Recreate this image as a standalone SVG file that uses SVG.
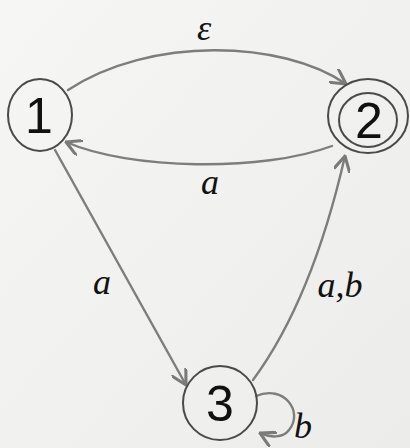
<svg xmlns="http://www.w3.org/2000/svg" width="410" height="448" viewBox="0 0 410 448">
<defs>
<marker id="arr" viewBox="0 0 12 12" refX="11" refY="6" markerWidth="7" markerHeight="7" orient="auto" markerUnits="strokeWidth">
<path d="M0,0 L11,6 L0,12" fill="none" stroke="#7a7a7a" stroke-width="2.2" stroke-linejoin="round"/>
</marker>
<linearGradient id="bg" x1="0" y1="0" x2="1" y2="1">
<stop offset="0" stop-color="#f6f6f4"/>
<stop offset="1" stop-color="#ececea"/>
</linearGradient>
</defs>
<style>
.node{fill:none;stroke:#4a4a4a;stroke-width:2}
.edge{fill:none;stroke:#7d7d7d;stroke-width:2.4;stroke-linecap:round;marker-end:url(#arr)}
.num{font-family:"Liberation Sans",Arial,sans-serif;font-size:50px;fill:#111;text-anchor:middle}
.lbl{font-family:"Liberation Serif","Times New Roman",serif;font-style:italic;font-size:36px;fill:#111;text-anchor:middle}
</style>
<rect width="410" height="448" fill="url(#bg)"/>
<g id="edges">
<path class="edge" d="M68,90 C150,36 282,40 346,84"/>
<path class="edge" d="M332,146 C262,172 130,170 66,142"/>
<path class="edge" d="M55,150 L186,385"/>
<path class="edge" d="M253,380 Q312,300 345,156"/>
<path class="edge" d="M256,396 C284,384 304,412 289,430 C283,438 270,438 260,433"/>
<text class="lbl" x="204" y="40">ε</text>
<text class="lbl" x="210" y="194">a</text>
<text class="lbl" x="102" y="294">a</text>
<text class="lbl" x="340" y="297">a,b</text>
<text class="lbl" x="303" y="438">b</text>
</g>
<g id="node1">
<ellipse class="node" cx="40" cy="115" rx="32" ry="36"/>
<text class="num" x="39" y="133">1</text>
</g>
<g id="node2">
<ellipse class="node" cx="368" cy="116" rx="40" ry="37"/>
<ellipse class="node" cx="368" cy="120" rx="29" ry="27"/>
<text class="num" x="369" y="138">2</text>
</g>
<g id="node3">
<circle class="node" cx="220" cy="403" r="37"/>
<text class="num" x="220" y="421">3</text>
</g>
</svg>
